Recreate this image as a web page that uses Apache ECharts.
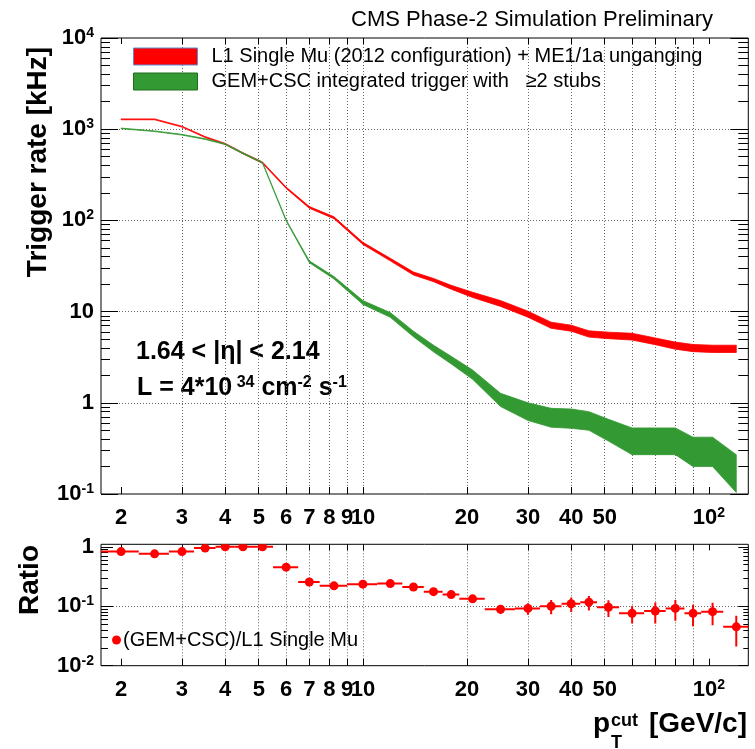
<!DOCTYPE html>
<html><head><meta charset="utf-8">
<script src="https://cdn.jsdelivr.net/npm/echarts@6/dist/echarts.min.js"></script>
<style>html,body{margin:0;padding:0;background:#fff}#c{width:755px;height:749px}</style>
</head><body><div id="c"></div>
<script>
// ---- data ----
const ptCenter = [2,2.5,3,3.5,4,4.5,5.125,6,7,8.25,10,12,14,16,18,20.75,25,30,35,40,45,51.25,60,70,80,90,102.5,120];
const binEdges = [1.75,2.25,2.75,3.25,3.75,4.25,4.75,5.5,6.5,7.5,9,11,13,15,17,19,22.5,27.5,32.5,37.5,42.5,47.5,55,65,75,85,95,110,130];
const l1Rate = [1283,1283,1067,820,690,545,430,228,139,107,56,37.2,26.2,22.2,18.5,15.3,12.3,9.4,7.1,6.6,5.7,5.5,5.33,4.74,4.25,4.0,3.92,3.92];
const l1Err  = [14,14,12,10,9,8,7,4,3,2.5,1.5,1.2,1.0,0.9,0.9,1.0,0.9,0.72,0.55,0.5,0.45,0.45,0.45,0.4,0.38,0.36,0.36,0.36];
const gemRate = [1020,950,870,780,685,545,430,100,35.2,23.5,12.6,9.2,5.7,3.95,2.95,2.05,1.09,0.82,0.705,0.69,0.65,0.52,0.40,0.40,0.40,0.31,0.31,0.187];
const gemErr  = [8,8,8,8,7,6,5,1.5,0.8,0.7,0.6,0.55,0.4,0.33,0.28,0.24,0.18,0.18,0.165,0.165,0.15,0.14,0.13,0.13,0.13,0.11,0.11,0.083];
const ratio    = [0.83,0.76,0.83,0.95,1.0,1.0,1.0,0.454,0.255,0.22,0.235,0.24,0.211,0.176,0.157,0.133,0.089,0.092,0.1,0.11,0.117,0.096,0.076,0.083,0.092,0.076,0.081,0.045];
const ratioErr = [0.01,0.01,0.01,0.012,0.012,0.015,0.015,0.01,0.008,0.008,0.01,0.01,0.01,0.01,0.01,0.01,0.015,0.02,0.027,0.03,0.032,0.03,0.025,0.032,0.035,0.03,0.033,0.024];
const xTickValues  = [2,3,4,5,6,7,8,9,10,20,30,40,50,60,70,80,90,100];
const xLabelValues = [2,3,4,5,6,7,8,9,10,20,30,40,50,100];
const rateDecades  = [0.1,1,10,100,1000,10000];
const ratioDecades = [0.01,0.1,1];
const minorMult = [2,3,4,5,6,7,8,9];
const l1Name = 'L1 Single Mu (2012 configuration) + ME1/1a unganging';
const gemName = 'GEM+CSC integrated trigger with   \u22652 stubs';
const ratioName = '(GEM+CSC)/L1 Single Mu';

// ---- helpers ----
const FONT = '"Liberation Sans", Arial, Helvetica, sans-serif';
function minors(decs){ const out=[]; decs.slice(0,-1).forEach(d=>minorMult.forEach(m=>out.push(d*m))); return out; }
function logLabel(v){
  const e = Math.log10(v), r = Math.round(e);
  if (Math.abs(e-r) < 1e-9){
    if (r===0) return '{b|1}';
    if (r===1) return '{b|10}';
    return '{b|10}{s|'+r+'}';
  }
  return '{b|'+v+'}';
}
function yLabel(v){
  const e = Math.log10(v), r = Math.round(e);
  if (Math.abs(e-r) > 1e-6) return '';
  return logLabel(Math.pow(10,r));
}
const richLbl = {
  b:{fontFamily:FONT,fontSize:22,fontWeight:'bold',color:'#000',lineHeight:24},
  s:{fontFamily:FONT,fontSize:14,fontWeight:'bold',color:'#000',lineHeight:14,verticalAlign:'top',padding:[0,0,10,0]}
};
const gridLine = {show:true, showMinLine:false, showMaxLine:false, lineStyle:{color:'#666', type:[1,2], width:1}};
const tickStyle = {color:'#000', width:1};

function xAxes(gi, min, max, margin){
  const c = {type:'log', logBase:10, gridIndex:gi, min:min, max:max, axisLine:{show:false}};
  return [
    Object.assign({}, c, {position:'bottom',
      axisTick:{show:true, inside:true, length:7, lineStyle:tickStyle, customValues:xTickValues},
      axisLabel:{show:true, customValues:xLabelValues, formatter:logLabel, rich:richLbl, margin:margin},
      splitLine:gridLine}),
    Object.assign({}, c, {position:'top',
      axisTick:{show:true, inside:true, length:6, lineStyle:tickStyle, customValues:xTickValues},
      axisLabel:{show:false}, splitLine:{show:false}})
  ];
}
function yAxes(gi, min, max, decs, majL, minL, majR, minR){
  const c = {type:'log', logBase:10, gridIndex:gi, min:min, max:max, axisLine:{show:false}, splitLine:{show:false}, axisLabel:{show:false}};
  const mins = minors(decs);
  return [
    Object.assign({}, c, {position:'left',
      axisTick:{show:true, inside:true, length:majL, lineStyle:tickStyle, customValues:decs},
      axisLabel:{show:true, customValues:decs, formatter:yLabel, rich:richLbl, margin:7},
      splitLine:gridLine}),
    Object.assign({}, c, {position:'left', axisTick:{show:true, inside:true, length:minL, lineStyle:tickStyle, customValues:mins}}),
    Object.assign({}, c, {position:'right', axisTick:{show:true, inside:true, length:majR, lineStyle:tickStyle, customValues:decs}}),
    Object.assign({}, c, {position:'right', axisTick:{show:true, inside:true, length:minR, lineStyle:tickStyle, customValues:mins}})
  ];
}
function bandRender(rate, err, color){
  return function(params, api){
    if (params.dataIndex !== 0) return null;
    const up = [], lo = [];
    for (let i=0;i<ptCenter.length;i++){
      up.push(api.coord([ptCenter[i], rate[i]+err[i]]));
      lo.push(api.coord([ptCenter[i], rate[i]-err[i]]));
    }
    return {type:'polygon', shape:{points: up.concat(lo.reverse())},
            style:{fill:color, stroke:color, lineWidth:0.8}};
  };
}

const chart = echarts.init(document.getElementById('c'), null, {renderer:'canvas'});
const option = {
  backgroundColor:'#fff',
  animation:false,
  grid:[
    {left:101, top:38, width:647.3, height:456, show:true, borderColor:'#000', borderWidth:1, backgroundColor:'transparent', outerBoundsMode:'none'},
    {left:101, top:544.3, width:647.3, height:121.4, show:true, borderColor:'#000', borderWidth:1, backgroundColor:'transparent', outerBoundsMode:'none'}
  ],
  xAxis: xAxes(0, 1.75, 130, 12).concat(xAxes(1, 1.75, 130, 12)),
  yAxis: yAxes(0, 0.1, 10000, rateDecades, 17, 9, 18, 10).concat(yAxes(1, 0.01, 1.1, ratioDecades, 12, 7, 10, 5)),
  legend:[
    {orient:'vertical', left:133, top:46.5, padding:0, itemGap:5, itemWidth:64, itemHeight:17, selectedMode:false,
     textStyle:{fontFamily:FONT, fontSize:20, color:'#000', lineHeight:20, padding:[0,0,0,9]},
     data:[
       {name:l1Name, icon:'rect', itemStyle:{color:'#ff0000', borderColor:'#5b8fd6', borderWidth:1}},
       {name:gemName, icon:'rect', itemStyle:{color:'#339933', borderColor:'#1e6e1e', borderWidth:1}}
     ]},
    {orient:'vertical', left:112, top:630, padding:0, itemWidth:9, itemHeight:9, selectedMode:false,
     textStyle:{fontFamily:FONT, fontSize:20, color:'#000', lineHeight:20, padding:[0,0,0,-3]},
     data:[{name:ratioName, icon:'circle', itemStyle:{color:'#ff0000'}}]}
  ],
  series:[
    {name:l1Name, type:'custom', xAxisIndex:0, yAxisIndex:0, itemStyle:{color:'#ff0000'}, clip:true,
     data: ptCenter.map((x,i)=>[x, l1Rate[i]]), renderItem: bandRender(l1Rate, l1Err, '#ff0000')},
    {name:gemName, type:'custom', xAxisIndex:0, yAxisIndex:0, itemStyle:{color:'#339933'}, clip:true,
     data: ptCenter.map((x,i)=>[x, gemRate[i]]), renderItem: bandRender(gemRate, gemErr, '#339933')},
    {name:ratioName, type:'custom', xAxisIndex:2, yAxisIndex:4, itemStyle:{color:'#ff0000'}, clip:true,
     data: ptCenter.map((x,i)=>[x, ratio[i], binEdges[i], binEdges[i+1], ratioErr[i]]),
     renderItem: function(params, api){
       const x = api.value(0), y = api.value(1), xl = api.value(2), xh = api.value(3), e = api.value(4);
       const c = api.coord([x,y]), l = api.coord([xl,y]), r = api.coord([xh,y]);
       const t = api.coord([x,y+e]), b = api.coord([x,y-e]);
       return {type:'group', children:[
         {type:'line', shape:{x1:l[0],y1:l[1],x2:r[0],y2:r[1]}, style:{stroke:'#ff0000', lineWidth:2}},
         {type:'line', shape:{x1:t[0],y1:t[1],x2:b[0],y2:b[1]}, style:{stroke:'#ff0000', lineWidth:2}},
         {type:'circle', shape:{cx:c[0],cy:c[1],r:4.5}, style:{fill:'#ff0000'}}
       ]};
     }}
  ],
  graphic:[
    {type:'text', style:{x:713, y:20, text:'CMS Phase-2 Simulation Preliminary', font:'22px '+FONT, fill:'#000', align:'right', verticalAlign:'middle'}},
    {type:'text', x:38, y:162, rotation:Math.PI/2, style:{x:0, y:0, text:'Trigger rate [kHz]', font:'bold 28px '+FONT, fill:'#000', align:'center', verticalAlign:'middle'}},
    {type:'text', x:30, y:580, rotation:Math.PI/2, style:{x:0, y:0, text:'Ratio', font:'bold 28px '+FONT, fill:'#000', align:'center', verticalAlign:'middle'}},
    {type:'text', style:{x:136, y:352, text:'1.64 < |\u03b7| < 2.14', font:'bold 25px '+FONT, fill:'#000', align:'left', verticalAlign:'middle'}},
    {type:'text', style:{x:137, y:388, text:'{b|L = 4*10}{s| 34}{b| cm}{s|-2}{b| s}{s|-1}', align:'left', verticalAlign:'middle',
      rich:{b:{fontFamily:FONT,fontSize:25,fontWeight:'bold',fill:'#000',color:'#000',lineHeight:26},
            s:{fontFamily:FONT,fontSize:16,fontWeight:'bold',fill:'#000',color:'#000',lineHeight:16,verticalAlign:'top',padding:[0,0,14,0]}}}},
    {type:'text', style:{x:593, y:724, text:'p', font:'bold 28px '+FONT, fill:'#000', align:'left', verticalAlign:'middle'}},
    {type:'text', style:{x:611, y:721, text:'cut', font:'bold 18px '+FONT, fill:'#000', align:'left', verticalAlign:'middle'}},
    {type:'text', style:{x:611, y:743, text:'T', font:'bold 18px '+FONT, fill:'#000', align:'left', verticalAlign:'middle'}},
    {type:'text', style:{x:747, y:724, text:'[GeV/c]', font:'bold 28px '+FONT, fill:'#000', align:'right', verticalAlign:'middle'}}
  ]
};
chart.setOption(option);
</script>
</body></html>
